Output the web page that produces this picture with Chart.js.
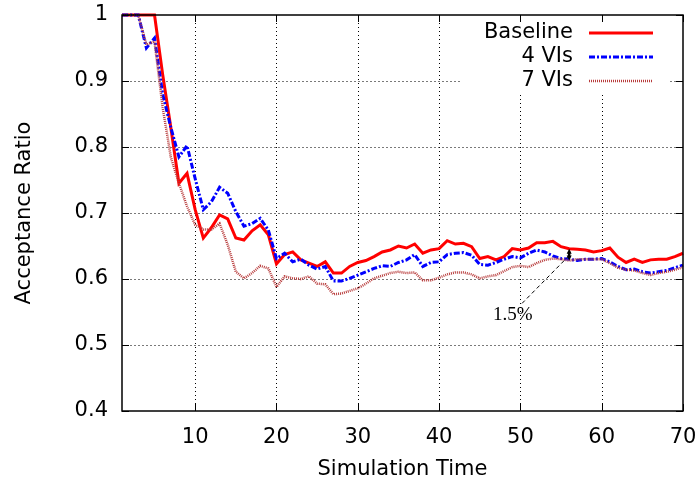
<!DOCTYPE html>
<html>
<head>
<meta charset="utf-8">
<title>Acceptance Ratio</title>
<script src="https://cdn.jsdelivr.net/npm/chart.js@4.4.0/dist/chart.umd.min.js"></script>
<style>
  html, body { margin: 0; padding: 0; background: #fff; }
  canvas { display: block; }
</style>
</head>
<body>
<canvas id="ratioChart" width="699" height="489"></canvas>
<script>
// simulation time steps
const simTime = [
  1, 2, 3, 4, 5, 6, 7, 8, 9, 10, 11, 12, 13, 14, 15, 16, 17, 18, 19, 20,
  21, 22, 23, 24, 25, 26, 27, 28, 29, 30, 31, 32, 33, 34, 35, 36, 37, 38, 39, 40,
  41, 42, 43, 44, 45, 46, 47, 48, 49, 50, 51, 52, 53, 54, 55, 56, 57, 58, 59, 60,
  61, 62, 63, 64, 65, 66, 67, 68, 69, 70
];

const baseline = [
  1, 1, 1, 1, 1, 0.91, 0.83, 0.745, 0.76, 0.705,
  0.662, 0.678, 0.697, 0.691, 0.662, 0.659, 0.673, 0.682, 0.667, 0.623,
  0.637, 0.641, 0.629, 0.624, 0.619, 0.626, 0.609, 0.609, 0.619, 0.625,
  0.628, 0.634, 0.641, 0.644, 0.65, 0.647, 0.653, 0.639, 0.644, 0.646,
  0.658, 0.653, 0.654, 0.649, 0.631, 0.634, 0.629, 0.634, 0.646, 0.644,
  0.647, 0.655, 0.655, 0.657, 0.649, 0.646, 0.645, 0.644, 0.641, 0.643,
  0.647, 0.633, 0.625, 0.63, 0.625, 0.629, 0.63, 0.63, 0.634, 0.639
];

const vis4 = [
  1, 1, 1, 0.95, 0.965, 0.88, 0.83, 0.785, 0.802, 0.752,
  0.705, 0.717, 0.739, 0.73, 0.702, 0.68, 0.684, 0.692, 0.674, 0.631,
  0.639, 0.626, 0.63, 0.621, 0.615, 0.619, 0.597, 0.597, 0.601, 0.606,
  0.611, 0.616, 0.62, 0.619, 0.625, 0.629, 0.637, 0.619, 0.625, 0.626,
  0.637, 0.639, 0.64, 0.636, 0.622, 0.621, 0.625, 0.63, 0.634, 0.632,
  0.639, 0.644, 0.641, 0.635, 0.631, 0.63, 0.628, 0.63, 0.63, 0.631,
  0.626, 0.619, 0.614, 0.615, 0.611, 0.609, 0.611, 0.613, 0.617, 0.621
];

const vis7 = [
  1, 1, 1, 0.955, 0.96, 0.86, 0.785, 0.745, 0.71, 0.682,
  0.675, 0.675, 0.684, 0.652, 0.611, 0.601, 0.609, 0.62, 0.616, 0.588,
  0.604, 0.601, 0.6, 0.604, 0.593, 0.592, 0.577, 0.578, 0.582, 0.586,
  0.593, 0.601, 0.605, 0.609, 0.611, 0.609, 0.61, 0.598, 0.598, 0.602,
  0.607, 0.61, 0.61, 0.607, 0.601, 0.604, 0.606, 0.612, 0.618, 0.62,
  0.618, 0.624, 0.629, 0.631, 0.63, 0.628, 0.63, 0.63, 0.63, 0.63,
  0.624, 0.617, 0.614, 0.613, 0.609, 0.606, 0.609, 0.611, 0.614, 0.618
];

const xTicks = [10, 20, 30, 40, 50, 60, 70];
const yTicks = [0.4, 0.5, 0.6, 0.7, 0.8, 0.9, 1];

// gap marker between Baseline and 7 VIs
const gapTime = 56;
const gapLabel = '1.5%';
const gapLabelAt = { x: 50.2, y: 0.563 };

const FONT = 'DejaVu Sans';

const series = [
  { label: 'Baseline', data: baseline, color: '#ff0000', dash: [], width: 3 },
  { label: '4 VIs', data: vis4, color: '#0000ff', dash: [6, 2, 2, 2], width: 3 },
  { label: '7 VIs', data: vis7, color: '#b83c3c', dash: [1, 1], width: 2.5 }
];

function toPoints(values) {
  return simTime.map((t, i) => ({ x: t, y: values[i] }));
}

// dotted grid: grey horizontal, black vertical
const gridPlugin = {
  id: 'dottedGrid',
  beforeDatasetsDraw(chart) {
    const ctx = chart.ctx;
    const area = chart.chartArea;
    const xs = chart.scales.x;
    const ys = chart.scales.y;
    ctx.save();
    ctx.lineWidth = 1;
    ctx.strokeStyle = '#7a7a7a';
    ctx.setLineDash([2, 2]);
    ctx.beginPath();
    yTicks.slice(1, -1).forEach(v => {
      const py = Math.round(ys.getPixelForValue(v)) + 0.5;
      ctx.moveTo(area.left, py);
      ctx.lineTo(area.right, py);
    });
    ctx.stroke();
    ctx.strokeStyle = '#000';
    ctx.setLineDash([1, 3]);
    ctx.beginPath();
    xTicks.slice(0, -1).forEach(v => {
      const px = Math.round(xs.getPixelForValue(v)) + 0.5;
      ctx.moveTo(px, area.top);
      ctx.lineTo(px, area.bottom);
    });
    ctx.stroke();
    ctx.restore();
  }
};

// white key box, drawn over the grid
const keyBoxPlugin = {
  id: 'keyBox',
  beforeDatasetsDraw(chart) {
    const ctx = chart.ctx;
    const area = chart.chartArea;
    ctx.save();
    ctx.fillStyle = '#fff';
    ctx.fillRect(area.right - 221, area.top + 1, 206, 77);
    ctx.restore();
  },
  afterDatasetsDraw(chart) {
    const ctx = chart.ctx;
    const area = chart.chartArea;
    ctx.save();
    ctx.font = '21px "' + FONT + '"';
    ctx.textAlign = 'right';
    ctx.textBaseline = 'middle';
    series.forEach((s, i) => {
      const y = area.top + 18 + i * 24;
      ctx.fillStyle = '#000';
      ctx.fillText(s.label, area.right - 110, y);
      ctx.beginPath();
      ctx.strokeStyle = s.color;
      ctx.lineWidth = s.width;
      ctx.setLineDash(s.dash);
      ctx.moveTo(area.right - 94, y);
      ctx.lineTo(area.right - 30, y);
      ctx.stroke();
    });
    ctx.restore();
  }
};

// border box with inward tick marks on all four sides
const frameTicksPlugin = {
  id: 'frameTicks',
  afterDatasetsDraw(chart) {
    const ctx = chart.ctx;
    const area = chart.chartArea;
    const xs = chart.scales.x;
    const ys = chart.scales.y;
    ctx.save();
    ctx.strokeStyle = '#000';
    ctx.lineWidth = 1;
    ctx.setLineDash([]);
    ctx.beginPath();
    xTicks.forEach(v => {
      const px = Math.round(xs.getPixelForValue(v)) + 0.5;
      ctx.moveTo(px, area.bottom);
      ctx.lineTo(px, area.bottom - 7);
      ctx.moveTo(px, area.top);
      ctx.lineTo(px, area.top + 7);
    });
    yTicks.forEach(v => {
      const py = Math.round(ys.getPixelForValue(v)) + 0.5;
      ctx.moveTo(area.left, py);
      ctx.lineTo(area.left + 7, py);
      ctx.moveTo(area.right, py);
      ctx.lineTo(area.right - 7, py);
    });
    ctx.stroke();
    ctx.lineWidth = 1.5;
    ctx.strokeRect(area.left, area.top, area.right - area.left, area.bottom - area.top);
    ctx.restore();
  }
};

// vertical double arrow plus dashed leader and percentage label
const gapMarkerPlugin = {
  id: 'gapMarker',
  afterDatasetsDraw(chart) {
    const ctx = chart.ctx;
    const xs = chart.scales.x;
    const ys = chart.scales.y;
    const idx = simTime.indexOf(gapTime);
    const px = xs.getPixelForValue(gapTime);
    const yTop = ys.getPixelForValue(baseline[idx]);
    const yBot = ys.getPixelForValue(vis7[idx]);
    const lx = xs.getPixelForValue(gapLabelAt.x);
    const ly = ys.getPixelForValue(gapLabelAt.y);
    ctx.save();
    ctx.strokeStyle = '#000';
    ctx.fillStyle = '#000';
    ctx.lineWidth = 2.5;
    ctx.beginPath();
    ctx.moveTo(px, yTop + 3);
    ctx.lineTo(px, yBot - 3);
    ctx.stroke();
    ctx.beginPath();
    ctx.moveTo(px, yTop);
    ctx.lineTo(px - 2.5, yTop + 5);
    ctx.lineTo(px + 2.5, yTop + 5);
    ctx.closePath();
    ctx.moveTo(px, yBot);
    ctx.lineTo(px - 2.5, yBot - 5);
    ctx.lineTo(px + 2.5, yBot - 5);
    ctx.closePath();
    ctx.fill();
    ctx.lineWidth = 1;
    ctx.setLineDash([4, 3]);
    ctx.beginPath();
    ctx.moveTo(lx, ly);
    ctx.lineTo(px - 1, yBot - 4);
    ctx.stroke();
    ctx.setLineDash([]);
    ctx.font = '19px "Liberation Serif"';
    ctx.textAlign = 'left';
    ctx.textBaseline = 'alphabetic';
    ctx.fillText(gapLabel, lx - 29, ly + 17);
    ctx.restore();
  }
};

const tickFont = { family: FONT, size: 21 };

new Chart(document.getElementById('ratioChart'), {
  type: 'line',
  data: {
    datasets: series.map((s, i) => ({
      label: s.label,
      data: toPoints(s.data),
      borderColor: s.color,
      borderWidth: s.width,
      borderDash: s.dash,
      pointRadius: 0,
      fill: false,
      tension: 0,
      clip: 5,
      order: series.length - i
    }))
  },
  options: {
    responsive: false,
    animation: false,
    devicePixelRatio: 1,
    layout: { padding: { top: 15, right: 16, left: 0, bottom: 0 } },
    plugins: {
      legend: { display: false },
      tooltip: { enabled: false }
    },
    scales: {
      x: {
        type: 'linear',
        min: 1,
        max: 70,
        afterBuildTicks(scale) {
          scale.ticks = xTicks.map(v => ({ value: v }));
        },
        afterFit(scale) {
          scale.height = 78;
          scale.paddingLeft = 0;
          scale.paddingRight = 0;
        },
        border: { display: false },
        grid: { display: false, drawTicks: false },
        ticks: {
          color: '#000',
          font: tickFont,
          padding: 14,
          maxRotation: 0,
          callback: v => String(v)
        },
        title: {
          display: true,
          text: 'Simulation Time',
          color: '#000',
          font: tickFont,
          padding: { top: 0, bottom: 7 }
        }
      },
      y: {
        min: 0.4,
        max: 1,
        afterBuildTicks(scale) {
          scale.ticks = yTicks.map(v => ({ value: v }));
        },
        afterFit(scale) {
          scale.width = 122;
          scale.paddingTop = 0;
          scale.paddingBottom = 0;
        },
        border: { display: false },
        grid: { display: false, drawTicks: false },
        ticks: {
          color: '#000',
          font: tickFont,
          padding: 14,
          callback: v => String(Math.round(v * 10) / 10)
        },
        title: {
          display: true,
          text: 'Acceptance Ratio',
          color: '#000',
          font: tickFont,
          padding: { top: 12, bottom: 0 }
        }
      }
    }
  },
  plugins: [gridPlugin, keyBoxPlugin, frameTicksPlugin, gapMarkerPlugin]
});
</script>
</body>
</html>
